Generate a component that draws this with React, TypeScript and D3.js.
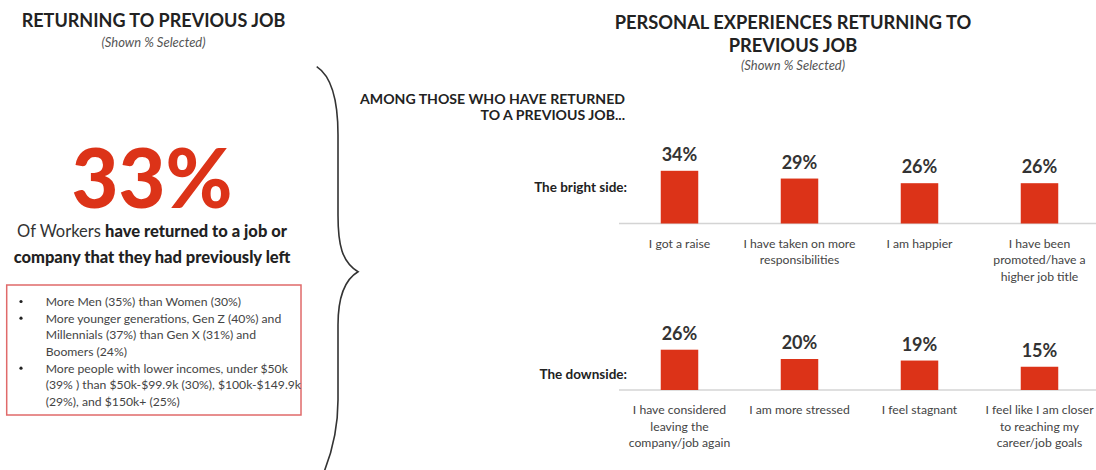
import React from "react";
import * as d3 from "d3";

const brightCategories: string[][] = [
  ["I got a raise"],
  ["I have taken on more", "responsibilities"],
  ["I am happier"],
  ["I have been", "promoted/have a", "higher job title"],
];
const brightValues: number[] = [34, 29, 26, 26];

const downCategories: string[][] = [
  ["I have considered", "leaving the", "company/job again"],
  ["I am more stressed"],
  ["I feel stagnant"],
  ["I feel like I am closer", "to reaching my", "career/job goals"],
];
const downValues: number[] = [26, 20, 19, 15];

const headlineValue = "33%";
const bulletLines: { bullet: boolean; text: string }[] = [
  { bullet: true, text: "More Men (35%) than Women (30%)" },
  { bullet: true, text: "More younger generations, Gen Z (40%) and" },
  { bullet: false, text: "Millennials (37%) than Gen X (31%) and" },
  { bullet: false, text: "Boomers (24%)" },
  { bullet: true, text: "More people with lower incomes, under $50k" },
  { bullet: false, text: "(39% ) than $50k-$99.9k (30%), $100k-$149.9k" },
  { bullet: false, text: "(29%), and $150k+ (25%)" },
];

const RED = "#DC3318";
const DARK = "#222";
const GRAY = "#444";
const FONT = "Lato, 'Open Sans', sans-serif";

const W = 1096;
const H = 470;

function BarRow({
  cats,
  vals,
  baseline,
  rowLabel,
  labelY,
}: {
  cats: string[][];
  vals: number[];
  baseline: number;
  rowLabel: string;
  labelY: number;
}) {
  const x = d3
    .scaleBand<number>()
    .domain(d3.range(vals.length))
    .range([619.5, 1099.5])
    .paddingInner(0.6875)
    .paddingOuter(0.34375);
  const h = d3.scaleLinear().domain([0, 100]).range([0, 155]);
  return (
    <g>
      <text x={627} y={labelY} textAnchor="end" fontFamily={FONT} fontWeight={700} fontSize={13.5} fill={DARK}>
        {rowLabel}
      </text>
      <line x1={619} x2={W} y1={baseline} y2={baseline} stroke="#d4d4d4" strokeWidth={1.5} />
      {vals.map((v, i) => {
        const x0 = x(i)!;
        const cx = x0 + x.bandwidth() / 2;
        const bh = h(v);
        return (
          <g key={i}>
            <rect x={x0} y={baseline - bh} width={x.bandwidth()} height={bh} fill={RED} />
            <text x={cx} y={baseline - bh - 10} textAnchor="middle" fontFamily={FONT} fontWeight={700} fontSize={18} fill="#333">
              {v}%
            </text>
            {cats[i].map((line, j) => (
              <text key={j} x={cx} y={baseline + 24 + j * 16.7} textAnchor="middle" fontFamily={FONT} fontSize={12.2} fill={GRAY}>
                {line}
              </text>
            ))}
          </g>
        );
      })}
    </g>
  );
}

export default function App() {
  return (
    <svg width={W} height={H} style={{ position: "absolute", left: 0, top: 0, background: "#fff" }}>
      {/* Left panel */}
      <text x={153.5} y={27.3} textAnchor="middle" fontFamily={FONT} fontWeight={700} fontSize={18} fill={DARK}>
        RETURNING TO PREVIOUS JOB
      </text>
      <text x={153.5} y={46.7} textAnchor="middle" fontFamily={FONT} fontStyle="italic" fontSize={13} fill="#555">
        (Shown % Selected)
      </text>
      <text x={152} y={208.3} textAnchor="middle" fontFamily={FONT} fontWeight={900} fontSize={81} fill={RED}>
        {headlineValue}
      </text>
      <text x={152} y={237} textAnchor="middle" fontFamily={FONT} fontSize={16.5} fill={DARK}>
        <tspan fill="#333">Of Workers </tspan>
        <tspan fontWeight={900}>have returned to a job or</tspan>
      </text>
      <text x={152} y={262.5} textAnchor="middle" fontFamily={FONT} fontWeight={900} fontSize={16.5} fill={DARK}>
        company that they had previously left
      </text>
      <rect x={6.7} y={285} width={294.3} height={130} fill="none" stroke="#E06A6A" strokeWidth={1.5} />
      {bulletLines.map((b, i) => (
        <g key={i}>
          {b.bullet && <circle cx={21} cy={306 + i * 16.67 - 4.5} r={1.6} fill={DARK} />}
          <text x={45.7} y={306 + i * 16.67} fontFamily={FONT} fontSize={12.2} fill={GRAY}>
            {b.text}
          </text>
        </g>
      ))}

      {/* Brace */}
      <path
        d="M316.7,66.7 C331,76 338,100 338,135 L338,215 C338,245 342,262 358,271.7 C344,280 338,300 338,325 L338,400 C338,430 332,452 324,472"
        fill="none"
        stroke="#333"
        strokeWidth={1.6}
      />

      {/* Right panel */}
      <text x={793} y={29} textAnchor="middle" fontFamily={FONT} fontWeight={700} fontSize={18.3} fill={DARK}>
        PERSONAL EXPERIENCES RETURNING TO
      </text>
      <text x={793} y={51.7} textAnchor="middle" fontFamily={FONT} fontWeight={700} fontSize={18.3} fill={DARK}>
        PREVIOUS JOB
      </text>
      <text x={793} y={70} textAnchor="middle" fontFamily={FONT} fontStyle="italic" fontSize={13} fill="#555">
        (Shown % Selected)
      </text>
      <text x={625} y={104} textAnchor="end" fontFamily={FONT} fontWeight={700} fontSize={14.1} fill={DARK}>
        AMONG THOSE WHO HAVE RETURNED
      </text>
      <text x={625} y={120} textAnchor="end" fontFamily={FONT} fontWeight={700} fontSize={14.1} fill={DARK}>
        TO A PREVIOUS JOB...
      </text>

      <BarRow cats={brightCategories} vals={brightValues} baseline={223.5} rowLabel="The bright side:" labelY={191.5} />
      <BarRow cats={downCategories} vals={downValues} baseline={390} rowLabel="The downside:" labelY={379.3} />
    </svg>
  );
}
